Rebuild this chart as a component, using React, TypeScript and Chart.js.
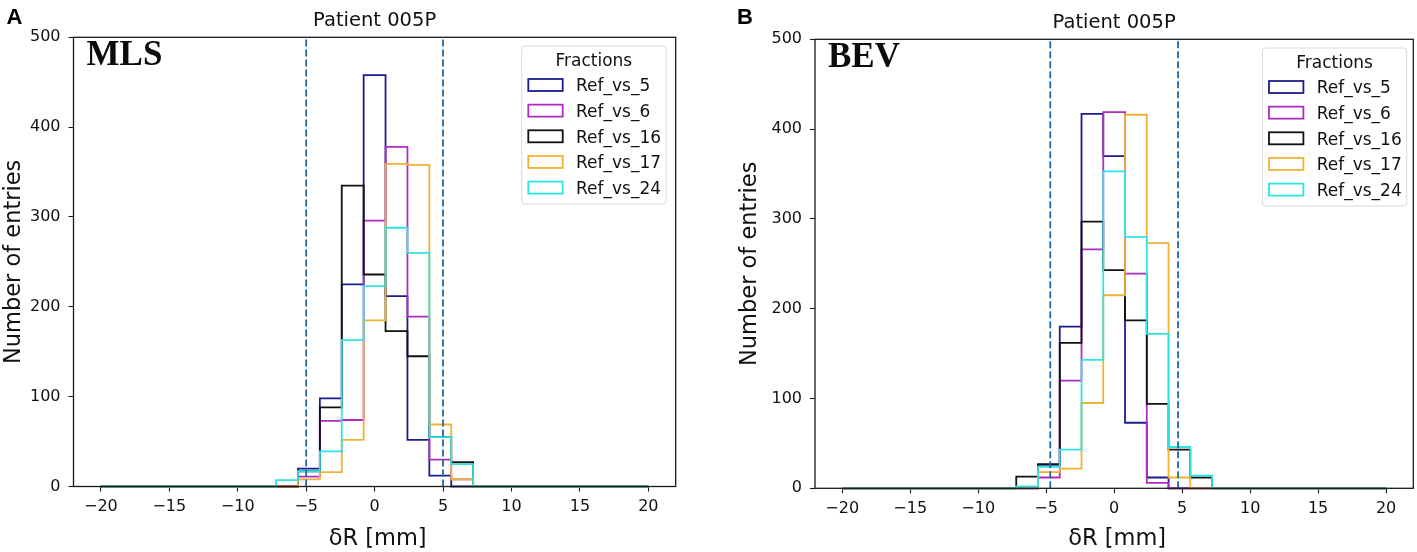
import { useEffect, useRef } from "react";
import { Chart, registerables } from "chart.js";

Chart.register(...registerables);

// histogram bin edges (25 bins, 1.6 mm wide)
const binEdges = [
  -20, -18.4, -16.8, -15.2, -13.6, -12, -10.4, -8.8, -7.2, -5.6, -4, -2.4, -0.8,
  0.8, 2.4, 4, 5.6, 7.2, 8.8, 10.4, 12, 13.6, 15.2, 16.8, 18.4, 20,
];

const fractions = ["Ref_vs_5", "Ref_vs_6", "Ref_vs_16", "Ref_vs_17", "Ref_vs_24"];
const fractionColors = ["#1c1c8e", "#b02cc0", "#111111", "#f0b234", "#2fe3e3"];

// counts per bin, panel A (MLS)
const mls5 = [0, 0, 0, 0, 0, 0, 0, 0, 0, 20, 98, 225, 458, 212, 52, 12, 0, 0, 0, 0, 0, 0, 0, 0, 0];
const mls6 = [0, 0, 0, 0, 0, 0, 0, 0, 0, 11, 73, 74, 296, 378, 189, 30, 8, 0, 0, 0, 0, 0, 0, 0, 0];
const mls16 = [0, 0, 0, 0, 0, 0, 0, 0, 0, 17, 88, 335, 236, 173, 145, 55, 27, 0, 0, 0, 0, 0, 0, 0, 0];
const mls17 = [0, 0, 0, 0, 0, 0, 0, 0, 0, 8, 16, 52, 185, 359, 358, 69, 8, 0, 0, 0, 0, 0, 0, 0, 0];
const mls24 = [0, 0, 0, 0, 0, 0, 0, 0, 7, 17, 39, 163, 223, 288, 260, 55, 25, 0, 0, 0, 0, 0, 0, 0, 0];

// counts per bin, panel B (BEV)
const bev5 = [0, 0, 0, 0, 0, 0, 0, 0, 0, 26, 180, 417, 370, 73, 12, 0, 0, 0, 0, 0, 0, 0, 0, 0, 0];
const bev6 = [0, 0, 0, 0, 0, 0, 0, 0, 0, 12, 120, 266, 419, 239, 6, 0, 0, 0, 0, 0, 0, 0, 0, 0, 0];
const bev16 = [0, 0, 0, 0, 0, 0, 0, 0, 13, 27, 162, 297, 243, 187, 94, 43, 12, 0, 0, 0, 0, 0, 0, 0, 0];
const bev17 = [0, 0, 0, 0, 0, 0, 0, 0, 0, 18, 22, 95, 215, 416, 273, 12, 0, 0, 0, 0, 0, 0, 0, 0, 0];
const bev24 = [0, 0, 0, 0, 0, 0, 0, 0, 2, 24, 43, 143, 353, 280, 172, 46, 14, 0, 0, 0, 0, 0, 0, 0, 0];

// dashed limit lines (mm)
const mlsLimits = [-5, 5];
const bevLimits = [-4.7, 4.7];

const xTickValues = [-20, -15, -10, -5, 0, 5, 10, 15, 20];
const yMax = 500;

const FONT = "'DejaVu Sans', sans-serif";

type Layout = {
  canvasLeft: number;
  width: number;
  area: { left: number; right: number; top: number; bottom: number };
  legendGap: { right: number; top: number };
  yLabelOffset: number;
  letterX: number;
};

// outline like matplotlib histtype="step"
const stepPoints = (counts: number[]) => {
  const pts = [{ x: binEdges[0], y: 0 }];
  counts.forEach((c, i) => pts.push({ x: binEdges[i], y: c }));
  pts.push({ x: binEdges[binEdges.length - 1], y: counts[counts.length - 1] });
  pts.push({ x: binEdges[binEdges.length - 1], y: 0 });
  return pts;
};

const decorations = (letter: string, tag: string, layout: Layout) => ({
  id: "decor-" + letter,
  afterDatasetsDraw(chart: any) {
    const { ctx, chartArea: a } = chart;
    ctx.save();
    // frame
    ctx.strokeStyle = "#1a1a1a";
    ctx.lineWidth = 1.3;
    ctx.strokeRect(a.left, a.top, a.right - a.left, a.bottom - a.top);

    ctx.fillStyle = "#111";
    // title
    ctx.font = `19.5px ${FONT}`;
    ctx.textAlign = "center";
    ctx.textBaseline = "alphabetic";
    ctx.fillText("Patient 005P", (a.left + a.right) / 2, a.top - 11);
    // x label
    ctx.font = `22.5px ${FONT}`;
    ctx.fillText("δR [mm]", (a.left + a.right) / 2 + 3, 545);
    // y label
    ctx.save();
    ctx.translate(a.left - layout.yLabelOffset, (a.top + a.bottom) / 2);
    ctx.rotate(-Math.PI / 2);
    ctx.fillText("Number of entries", 0, 0);
    ctx.restore();
    // panel letter
    ctx.textAlign = "left";
    ctx.font = `bold 22px 'Liberation Sans', Arial, sans-serif`;
    ctx.fillStyle = "#000";
    ctx.fillText(letter, layout.letterX, 24);
    // method tag
    ctx.font = `bold 35px 'Liberation Serif', 'Times New Roman', serif`;
    ctx.fillStyle = "#0c0c0c";
    ctx.fillText(tag, a.left + 13, a.top + 27.5);

    // legend
    const w = 144.3;
    const h = 158;
    const lx = a.right - layout.legendGap.right - w;
    const ly = a.top + layout.legendGap.top;
    ctx.beginPath();
    ctx.roundRect(lx, ly, w, h, 3);
    ctx.fillStyle = "rgba(255,255,255,0.85)";
    ctx.fill();
    ctx.strokeStyle = "#d9d9d9";
    ctx.lineWidth = 1;
    ctx.stroke();
    ctx.fillStyle = "#111";
    ctx.font = `17px ${FONT}`;
    ctx.textAlign = "center";
    ctx.fillText("Fractions", lx + w / 2, ly + 19.5);
    ctx.textAlign = "left";
    const hist = chart.data.datasets.filter((d: any) => d.isHist);
    hist.forEach((d: any, i: number) => {
      const cy = ly + 39 + i * 25.65;
      ctx.strokeStyle = d.borderColor;
      ctx.lineWidth = 1.8;
      ctx.strokeRect(lx + 6.6, cy - 6, 34.4, 12);
      ctx.fillStyle = "#111";
      ctx.fillText(d.label, lx + 54.3, cy + 6.3);
    });
    ctx.restore();
  },
});

const HistPanel = ({
  series,
  limits,
  letter,
  tag,
  layout,
}: {
  series: number[][];
  limits: number[];
  letter: string;
  tag: string;
  layout: Layout;
}) => {
  const chartRef = useRef<Chart | null>(null);
  const canvasRef = useRef<HTMLCanvasElement | null>(null);

  useEffect(() => {
    if (!canvasRef.current) return;
    if (chartRef.current) chartRef.current.destroy();

    const { area, width } = layout;

    // "before": horizontal at the previous value, then vertical
    const histSets = series.map((counts, i) => ({
      label: fractions[i],
      isHist: true,
      data: stepPoints(counts),
      borderColor: fractionColors[i],
      borderWidth: 1.8,
      stepped: "before" as const,
      pointRadius: 0,
      fill: false,
      clip: 4,
      order: 10 - i,
    }));

    const limitSets = limits.map((x) => ({
      label: "limit",
      isHist: false,
      data: [
        { x, y: 0 },
        { x, y: yMax },
      ],
      borderColor: "#2169a0",
      borderWidth: 1.8,
      borderDash: [7, 3],
      pointRadius: 0,
      fill: false,
      clip: 2,
      order: 0,
    }));

    chartRef.current = new Chart(canvasRef.current, {
      type: "line",
      data: { datasets: [...histSets, ...limitSets] as any },
      options: {
        animation: false,
        responsive: false,
        layout: {
          padding: { left: 0, right: width - area.right, top: area.top, bottom: 0 },
        },
        plugins: { legend: { display: false }, tooltip: { enabled: false } },
        scales: {
          x: {
            type: "linear",
            min: -22,
            max: 22,
            border: { display: false },
            grid: {
              drawOnChartArea: false,
              drawTicks: true,
              tickLength: 5,
              tickColor: "#1a1a1a",
              tickWidth: 1.1,
            },
            afterBuildTicks: (axis: any) => {
              axis.ticks = xTickValues.map((value) => ({ value }));
            },
            afterFit: (axis: any) => {
              axis.height = 552 - area.bottom;
            },
            ticks: {
              autoSkip: false,
              maxRotation: 0,
              padding: 6,
              color: "#111",
              font: { family: FONT, size: 16 },
              callback: (v: any) => String(v).replace("-", "\u2212"),
            },
          },
          y: {
            min: 0,
            max: yMax,
            border: { display: false },
            grid: {
              drawOnChartArea: false,
              drawTicks: true,
              tickLength: 5,
              tickColor: "#1a1a1a",
              tickWidth: 1.1,
            },
            afterFit: (axis: any) => {
              axis.width = area.left;
            },
            ticks: {
              stepSize: 100,
              padding: 8,
              color: "#111",
              font: { family: FONT, size: 16 },
            },
          },
        },
      },
      plugins: [decorations(letter, tag, layout)],
    });

    return () => {
      chartRef.current?.destroy();
      chartRef.current = null;
    };
  }, [series, limits, letter, tag, layout]);

  return (
    <div style={{ position: "absolute", left: layout.canvasLeft, top: 0, width: layout.width, height: 552 }}>
      <canvas ref={canvasRef} width={layout.width} height={552}></canvas>
    </div>
  );
};

const layoutA: Layout = {
  canvasLeft: 0,
  width: 708,
  area: { left: 73.5, right: 675.7, top: 37.3, bottom: 486.5 },
  legendGap: { right: 9.7, top: 8.7 },
  yLabelOffset: 53.5,
  letterX: 6.5,
};

const layoutB: Layout = {
  canvasLeft: 708,
  width: 709,
  area: { left: 107, right: 705.3, top: 39.3, bottom: 488.3 },
  legendGap: { right: 6.6, top: 8.7 },
  yLabelOffset: 59.5,
  letterX: 29,
};

const mlsSeries = [mls5, mls6, mls16, mls17, mls24];
const bevSeries = [bev5, bev6, bev16, bev17, bev24];

const App = () => {
  useEffect(() => {
    document.body.style.margin = "0";
  }, []);

  return (
    <div style={{ position: "relative", width: 1417, height: 552, background: "#fff" }}>
      <HistPanel series={mlsSeries} limits={mlsLimits} letter="A" tag="MLS" layout={layoutA} />
      <HistPanel series={bevSeries} limits={bevLimits} letter="B" tag="BEV" layout={layoutB} />
    </div>
  );
};

export default App;
